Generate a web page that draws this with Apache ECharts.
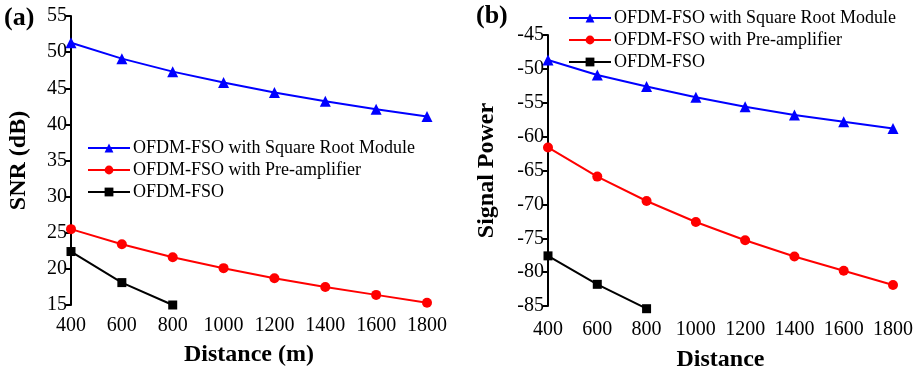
<!DOCTYPE html>
<html><head><meta charset="utf-8">
<script src="https://cdn.jsdelivr.net/npm/echarts@6/dist/echarts.min.js"></script>
<style>html,body{margin:0;padding:0;background:#fff}#c{width:920px;height:370px}</style>
</head><body><div id="c"></div>
<script>
const distances = [400, 600, 800, 1000, 1200, 1400, 1600, 1800];
const seriesNames = ['OFDM-FSO with Square Root Module', 'OFDM-FSO with Pre-amplifier', 'OFDM-FSO'];
const snrSquareRoot = [51.3, 49.1, 47.3, 45.8, 44.4, 43.2, 42.1, 41.1];
const snrPreAmp = [25.5, 23.4, 21.6, 20.1, 18.7, 17.5, 16.4, 15.3];
const snrPlain = [22.4, 18.1, 15.0];
const powSquareRoot = [-48.7, -50.9, -52.6, -54.2, -55.6, -56.8, -57.8, -58.8];
const powPreAmp = [-61.6, -65.9, -69.5, -72.6, -75.3, -77.7, -79.8, -81.9];
const powPlain = [-77.6, -81.8, -85.4];

const F = 'Liberation Serif';
const colors = ['#0000ff', '#ff0000', '#000000'];
const symbols = ['triangle', 'circle', 'rect'];
const sizes = [11, 10, 9];
const pair = (xs, ys) => ys.map((v, i) => [xs[i], v]);

function mk(gi, arrs) {
  return arrs.map((a, k) => ({
    name: seriesNames[k], type: 'line', xAxisIndex: gi, yAxisIndex: gi,
    data: pair(distances, a), symbol: symbols[k], symbolSize: sizes[k],
    showAllSymbol: true, clip: false, z: 10 - k,
    lineStyle: { color: colors[k], width: 2 }, itemStyle: { color: colors[k] }
  }));
}

function xAx(gi, name, gap, margin) {
  return {
    type: 'value', gridIndex: gi, min: 400, max: 1800, interval: 200,
    axisLine: { show: false }, axisTick: { show: false }, splitLine: { show: false },
    axisLabel: { fontFamily: F, fontSize: 20, color: '#000', margin: margin, formatter: v => String(v) },
    name: name, nameLocation: 'middle', nameGap: gap,
    nameTextStyle: { fontFamily: F, fontSize: 24, fontWeight: 'bold', color: '#000' }
  };
}
function yAx(gi, min, max, name, gap) {
  return {
    type: 'value', gridIndex: gi, min: min, max: max, interval: 5,
    axisLine: { show: true, onZero: false, lineStyle: { color: '#000', width: 2 } },
    axisTick: { show: true, inside: false, length: 5, lineStyle: { color: '#000', width: 2 } },
    splitLine: { show: false },
    axisLabel: { fontFamily: F, fontSize: 20, color: '#000', margin: 4 },
    name: name, nameLocation: 'middle', nameGap: gap,
    nameTextStyle: { fontFamily: F, fontSize: 24, fontWeight: 'bold', color: '#000' }
  };
}

const legendCommon = { data: seriesNames, orient: 'vertical', itemGap: 4, itemWidth: 42, itemHeight: 11, padding: 0,
  textStyle: { fontFamily: F, fontSize: 18, color: '#000', padding: [0, 0, 0, -2] } };

const chart = echarts.init(document.getElementById('c'));
chart.setOption({
  backgroundColor: '#fff',
  animation: false,
  grid: [
    { left: 71, right: 493, top: 16, bottom: 65, containLabel: false, outerBoundsMode: 'none' },
    { left: 548, right: 27, top: 35, bottom: 64, containLabel: false, outerBoundsMode: 'none' }
  ],
  xAxis: [xAx(0, 'Distance (m)', 38, 11), xAx(1, 'Distance', 42, 14)],
  yAxis: [yAx(0, 15, 55, 'SNR (dB)', 40), yAx(1, -85, -45, 'Signal Power', 49)],
  legend: [
    Object.assign({ left: 87, top: 139 }, legendCommon),
    Object.assign({ left: 568, top: 9 }, legendCommon)
  ],
  graphic: [
    { type: 'text', left: 4, top: 5, style: { text: '(a)', font: 'bold 26px "Liberation Serif"', fill: '#000' } },
    { type: 'text', left: 476, top: 3, style: { text: '(b)', font: 'bold 26px "Liberation Serif"', fill: '#000' } }
  ],
  series: mk(0, [snrSquareRoot, snrPreAmp, snrPlain]).concat(mk(1, [powSquareRoot, powPreAmp, powPlain]))
});
</script></body></html>
